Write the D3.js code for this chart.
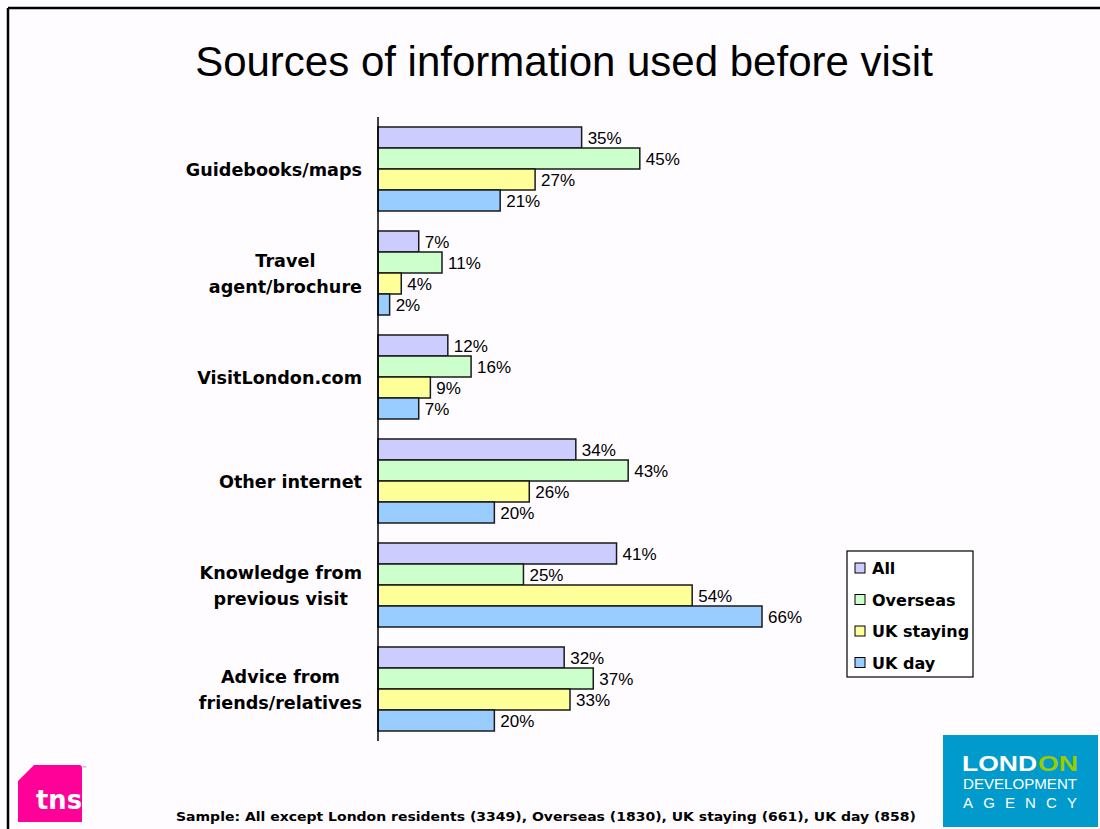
<!DOCTYPE html>
<html>
<head>
<meta charset="utf-8">
<script src="https://cdn.jsdelivr.net/npm/d3@7"></script>
<style>
  html, body { margin: 0; padding: 0; background: #fffcff; }
  svg { display: block; }
</style>
</head>
<body>
<svg id="chart" width="1100" height="829"></svg>
<script>
// Survey data: share of visitors using each information source (%)
const categories = [
  ["Guidebooks/maps"],
  ["Travel", "agent/brochure"],
  ["VisitLondon.com"],
  ["Other internet"],
  ["Knowledge from", "previous visit"],
  ["Advice from", "friends/relatives"]
];
const seriesNames = ["All", "Overseas", "UK staying", "UK day"];
const seriesColors = ["#ccccff", "#ccffcc", "#ffff99", "#99ccff"];
const allValues       = [35, 7, 12, 34, 41, 32];
const overseasValues  = [45, 11, 16, 43, 25, 37];
const ukStayingValues = [27, 4, 9, 26, 54, 33];
const ukDayValues     = [21, 2, 7, 20, 66, 20];
const seriesValues = [allValues, overseasValues, ukStayingValues, ukDayValues];

const svg = d3.select("#chart");
const W = 1100, H = 829;

// Slide frame (top and left edges)
svg.append("line").attr("x1", 8).attr("y1", 8).attr("x2", W).attr("y2", 8)
  .attr("stroke", "#000").attr("stroke-width", 2.5);
svg.append("line").attr("x1", 8).attr("y1", 8).attr("x2", 8).attr("y2", H)
  .attr("stroke", "#000").attr("stroke-width", 2.5);

// Title
svg.append("text")
  .attr("x", 564).attr("y", 76)
  .attr("text-anchor", "middle")
  .attr("font-family", "Liberation Sans, Arial, sans-serif")
  .attr("font-size", 42)
  .attr("fill", "#000")
  .text("Sources of information used before visit");

// Plot area
const x0 = 378, plotTop = 117, plotBottom = 741;
const x = d3.scaleLinear().domain([0, 66]).range([x0, 762]);
const y = d3.scaleBand()
  .domain(d3.range(categories.length))
  .range([plotTop, plotBottom])
  .paddingInner(20 / 104)
  .paddingOuter(10 / 104);
const ySub = d3.scaleBand()
  .domain(d3.range(seriesNames.length))
  .range([0, y.bandwidth()]);

const labelFont = "Tahoma, DejaVu Sans, Verdana, sans-serif";

const groups = svg.append("g").selectAll("g")
  .data(categories)
  .join("g")
  .attr("transform", (d, i) => `translate(0,${y(i)})`);

groups.each(function(cat, ci) {
  const g = d3.select(this);
  const rows = seriesValues.map((vals, si) => ({ si, v: vals[ci] }));
  g.selectAll("rect")
    .data(rows)
    .join("rect")
    .attr("x", x0)
    .attr("y", d => ySub(d.si))
    .attr("width", d => x(d.v) - x0)
    .attr("height", ySub.bandwidth())
    .attr("fill", d => seriesColors[d.si])
    .attr("stroke", "#1a1a1a")
    .attr("stroke-width", 1.5);
  g.selectAll("text.val")
    .data(rows)
    .join("text")
    .attr("class", "val")
    .attr("x", d => x(d.v) + 6)
    .attr("y", d => ySub(d.si) + ySub.bandwidth() / 2 + 6)
    .attr("font-family", "Liberation Sans, Arial, sans-serif")
    .attr("font-size", 17)
    .attr("fill", "#000")
    .text(d => d.v + "%");
});

// Category labels: block right-aligned, lines centered on each other
groups.each(function(cat) {
  const g = d3.select(this);
  const cy = y.bandwidth() / 2 + 7;
  const t = g.append("text")
    .attr("font-family", labelFont)
    .attr("font-weight", "bold")
    .attr("font-size", 17.6)
    .attr("fill", "#000")
    .attr("text-anchor", "middle");
  const spans = cat.map((line, li) => t.append("tspan")
    .attr("y", cy + (li - (cat.length - 1) / 2) * 26)
    .text(line));
  const maxW = d3.max(spans, s => s.node().getComputedTextLength());
  spans.forEach(s => s.attr("x", 362 - maxW / 2));
});

// Vertical category axis
const yAxis = d3.axisLeft(y).tickSize(0).tickFormat("");
svg.append("g")
  .attr("transform", `translate(${x0},0)`)
  .call(yAxis)
  .call(a => a.select(".domain").attr("d", `M0,${plotTop}V${plotBottom}`)
    .attr("stroke", "#000").attr("stroke-width", 1.5));

// Legend
const legend = svg.append("g").attr("transform", "translate(847,551)");
legend.append("rect").attr("width", 126).attr("height", 126)
  .attr("fill", "#fff").attr("stroke", "#000").attr("stroke-width", 1.2);
const legRows = legend.selectAll("g")
  .data(seriesNames)
  .join("g")
  .attr("transform", (d, i) => `translate(0,${17 + i * 31.5})`);
legRows.append("rect")
  .attr("x", 8).attr("y", -5).attr("width", 10).attr("height", 10)
  .attr("fill", (d, i) => seriesColors[i])
  .attr("stroke", "#000").attr("stroke-width", 1);
legRows.append("text")
  .attr("x", 25).attr("y", 6)
  .attr("font-family", labelFont)
  .attr("font-weight", "bold")
  .attr("font-size", 16)
  .attr("fill", "#000")
  .text(d => d);

// Footer sample note
svg.append("text")
  .attr("x", 176).attr("y", 821)
  .attr("font-family", labelFont)
  .attr("font-weight", "bold")
  .attr("font-size", 13)
  .attr("textLength", 740)
  .attr("lengthAdjust", "spacingAndGlyphs")
  .attr("fill", "#000")
  .text("Sample: All except London residents (3349), Overseas (1830), UK staying (661), UK day (858)");

// TNS logo
const tns = svg.append("g");
tns.append("path")
  .attr("d", "M34,765 L79,765 Q82,765 82,768 L82,822 L18,822 L18,781 Z")
  .attr("fill", "#ff0099");
tns.append("text")
  .attr("x", 36).attr("y", 809)
  .attr("font-family", "DejaVu Sans, sans-serif")
  .attr("font-weight", "bold")
  .attr("font-size", 26)
  .attr("textLength", 46)
  .attr("lengthAdjust", "spacingAndGlyphs")
  .attr("fill", "#fff")
  .text("tns");
tns.append("text")
  .attr("x", 82).attr("y", 770)
  .attr("font-family", "DejaVu Sans, sans-serif")
  .attr("font-size", 5)
  .attr("fill", "#666")
  .text("™");

// London Development Agency logo
const lda = svg.append("g");
lda.append("rect").attr("x", 943).attr("y", 735).attr("width", 155).attr("height", 92)
  .attr("fill", "#009acd");
const ldaFont = "Liberation Sans, Arial, sans-serif";
lda.append("text")
  .attr("x", 962).attr("y", 771)
  .attr("font-family", ldaFont)
  .attr("font-weight", "bold")
  .attr("font-size", 22)
  .attr("textLength", 75)
  .attr("lengthAdjust", "spacingAndGlyphs")
  .attr("fill", "#fff")
  .text("LOND");
lda.append("text")
  .attr("x", 1038).attr("y", 771)
  .attr("font-family", ldaFont)
  .attr("font-weight", "bold")
  .attr("font-size", 22)
  .attr("textLength", 40)
  .attr("lengthAdjust", "spacingAndGlyphs")
  .attr("fill", "#99cc00")
  .text("ON");
lda.append("text")
  .attr("x", 963).attr("y", 789)
  .attr("font-family", ldaFont)
  .attr("font-size", 14)
  .attr("textLength", 114)
  .attr("lengthAdjust", "spacingAndGlyphs")
  .attr("fill", "#fff")
  .text("DEVELOPMENT");
lda.append("text")
  .attr("x", 963).attr("y", 808)
  .attr("font-family", ldaFont)
  .attr("font-size", 15)
  .attr("textLength", 114)
  .attr("lengthAdjust", "spacing")
  .attr("fill", "#fff")
  .text("AGENCY");
</script>
</body>
</html>
